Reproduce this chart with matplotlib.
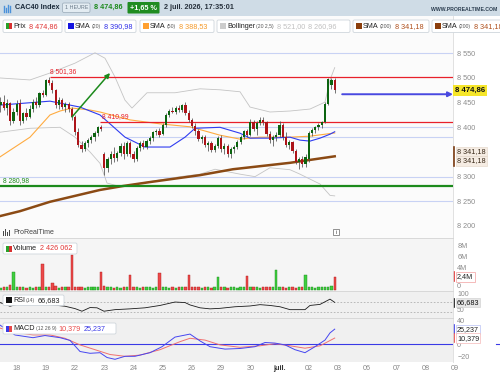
import matplotlib
matplotlib.use('Agg')
import matplotlib.pyplot as plt
import matplotlib.transforms as mtrans
from matplotlib.patches import Rectangle, FancyBboxPatch

plt.rcParams['font.family'] = ['Liberation Sans', 'DejaVu Sans']

# ---------------- data ----------------
opens = [8445, 8452, 8440, 8449, 8412, 8430, 8450, 8412, 8428, 8420,
         8438, 8452, 8445, 8470, 8466, 8495, 8490, 8475, 8445, 8455,
         8442, 8448, 8438, 8420, 8390, 8365, 8356, 8368, 8374, 8380,
         8388, 8400, 8345, 8318, 8335, 8345, 8338, 8348, 8362, 8345,
         8368, 8345, 8336, 8358, 8368, 8360, 8372, 8378, 8390, 8393,
         8386, 8405, 8425, 8434, 8430, 8440, 8436, 8445, 8428, 8415,
         8402, 8392, 8376, 8380, 8364, 8368, 8354, 8362, 8378, 8355,
         8362, 8345, 8355, 8360, 8370, 8380, 8392, 8384, 8410, 8396,
         8408, 8415, 8410, 8386, 8375, 8380, 8384, 8405, 8380, 8365,
         8370, 8352, 8330, 8335, 8326, 8335, 8388, 8395, 8400, 8404,
         8410, 8448, 8485, 8496]
highs = [8462, 8465, 8458, 8452, 8440, 8455, 8458, 8432, 8440, 8445,
         8458, 8462, 8472, 8476, 8498, 8501.36, 8496, 8478, 8462, 8460,
         8452, 8452, 8442, 8425, 8398, 8372, 8372, 8378, 8385, 8392,
         8403, 8405, 8350, 8340, 8352, 8360, 8352, 8368, 8370, 8372,
         8372, 8352, 8362, 8372, 8374, 8376, 8382, 8392, 8396, 8398,
         8408, 8428, 8438, 8442, 8444, 8446, 8448, 8451, 8435, 8418,
         8408, 8396, 8385, 8384, 8372, 8372, 8366, 8382, 8384, 8368,
         8366, 8360, 8365, 8375, 8384, 8395, 8396, 8416, 8415, 8412,
         8420, 8420, 8412, 8392, 8385, 8390, 8412, 8408, 8390, 8375,
         8372, 8356, 8340, 8342, 8345, 8392, 8398, 8403, 8408, 8412,
         8452, 8500, 8500, 8500]
lows = [8430, 8435, 8425, 8405, 8408, 8425, 8405, 8408, 8415, 8418,
        8432, 8440, 8442, 8462, 8464, 8485, 8470, 8440, 8438, 8438,
        8430, 8432, 8415, 8385, 8360, 8350, 8352, 8360, 8368, 8372,
        8383, 8392, 8304, 8310, 8325, 8330, 8332, 8342, 8335, 8342,
        8340, 8330, 8332, 8352, 8355, 8356, 8366, 8372, 8384, 8380,
        8384, 8400, 8420, 8428, 8426, 8430, 8432, 8425, 8410, 8398,
        8385, 8372, 8368, 8360, 8352, 8350, 8350, 8358, 8350, 8346,
        8340, 8338, 8348, 8355, 8366, 8376, 8380, 8382, 8392, 8385,
        8404, 8405, 8382, 8368, 8362, 8372, 8380, 8375, 8360, 8355,
        8348, 8325, 8315, 8320, 8320, 8330, 8382, 8388, 8395, 8398,
        8408, 8445, 8478, 8470]
closes = [8452, 8440, 8450, 8412, 8430, 8448, 8412, 8428, 8420, 8438,
          8452, 8445, 8470, 8466, 8495, 8490, 8475, 8445, 8455, 8442,
          8448, 8438, 8420, 8390, 8365, 8356, 8368, 8374, 8380, 8388,
          8400, 8396, 8318, 8335, 8345, 8338, 8348, 8362, 8345, 8368,
          8345, 8336, 8358, 8368, 8360, 8372, 8378, 8390, 8393, 8384,
          8405, 8425, 8434, 8430, 8440, 8436, 8445, 8428, 8415, 8402,
          8392, 8376, 8380, 8364, 8368, 8354, 8362, 8378, 8355, 8362,
          8345, 8355, 8360, 8370, 8380, 8392, 8384, 8410, 8396, 8408,
          8415, 8410, 8386, 8375, 8380, 8384, 8405, 8380, 8365, 8370,
          8352, 8330, 8335, 8326, 8340, 8388, 8395, 8400, 8404, 8410,
          8448, 8498, 8496, 8474.86]
volumes = [0.4, 0.5, 0.6, 0.9, 3.3, 0.5, 0.6, 0.5, 0.4, 0.5,
           0.4, 0.5, 0.6, 4.8, 0.6, 0.5, 1.2, 0.7, 0.4, 0.5,
           0.6, 0.5, 6.4, 0.6, 0.5, 0.5, 0.4, 0.5, 0.6, 0.5,
           0.6, 3.3, 0.7, 0.5, 0.5, 0.4, 0.5, 0.4, 0.6, 0.6,
           2.7, 0.6, 0.5, 0.4, 0.5, 0.5, 0.6, 0.4, 0.6, 3.0,
           0.6, 0.5, 0.4, 0.5, 0.4, 0.5, 0.6, 0.5, 2.7, 0.6,
           0.5, 0.6, 0.4, 0.5, 0.5, 0.4, 0.6, 2.4, 0.6, 0.5,
           0.4, 0.5, 0.6, 0.4, 0.5, 0.6, 2.6, 0.6, 0.5, 0.5,
           0.4, 0.5, 0.6, 0.5, 0.6, 3.6, 0.6, 0.5, 0.4, 0.5,
           0.6, 0.4, 0.5, 0.6, 2.7, 0.6, 0.5, 0.4, 0.5, 0.6,
           0.5, 0.6, 0.7, 2.426062]

sma20_x = [-0.15, 15.26, 24.5, 30.67, 38.37, 44.54, 52.24, 56.87, 59.95, 67.65,
           73.82, 76.9, 83.06, 89.22, 92.3, 95.38, 98.47, 101.55, 103]
sma20_y = [8445, 8453, 8441, 8425, 8380, 8360, 8360, 8380, 8398, 8400,
           8388, 8378, 8378, 8380, 8374, 8372, 8378, 8386, 8390.98]
sma50_x = [-0.15, 9.1, 15.26, 18.34, 22.04, 27.59, 30.67, 39.92, 49.16, 58.4,
           67.65, 73.82, 79.98, 89.22, 95.38, 103]
sma50_y = [8340, 8380, 8425, 8433, 8439, 8435, 8431, 8415, 8407, 8401,
           8384, 8376, 8380, 8380, 8382, 8388.53]
sma200_x = [-0.15, 6.02, 15.26, 30.67, 37.76, 46.08, 61.49, 71.66, 89.22, 103]
sma200_y = [8220, 8230, 8249, 8273, 8281, 8289, 8303, 8315, 8328, 8341.18]
bbup_x = [-0.15, 9.1, 15.26, 22.97, 29.13, 32.21, 35.29, 38.37, 40.53, 45.15,
          53.78, 61.49, 67.65, 73.82, 76.9, 83.06, 89.22, 95.38, 100.0, 101.55, 103]
bbup_y = [8500, 8496, 8510, 8530, 8551, 8540, 8502, 8455, 8439, 8470,
          8470, 8478, 8476, 8472, 8441, 8431, 8433, 8437, 8451, 8496, 8521.0]
bblo_x = [-0.15, 9.1, 18.34, 22.97, 27.59, 30.67, 32.83, 36.83, 46.08, 55.33,
          61.49, 66.11, 73.82, 78.44, 83.06, 89.22, 92.3, 98.47, 101.55, 103]
bblo_y = [8390, 8398, 8400, 8380, 8350, 8327, 8287, 8280, 8290, 8300,
          8305, 8315, 8305, 8300, 8318, 8314, 8305, 8285, 8262, 8260.96]
rsi_x = [-0.15, 2.94, 6.02, 10.02, 13.72, 16.8, 19.88, 22.97, 25.12, 27.59,
         29.75, 31.9, 35.29, 39.92, 44.54, 49.16, 53.78, 56.87, 58.4, 61.49,
         64.57, 67.65, 72.27, 76.9, 79.98, 83.06, 86.14, 89.22, 93.84, 95.38,
         98.47, 101.55, 103]
rsi_y = [66, 52, 62, 59, 60, 56, 52, 43, 33, 47,
         46, 33, 39, 42, 46, 55, 68, 66, 57, 46,
         42, 44, 50, 53, 58, 55, 50, 39, 39, 55,
         59, 79, 66.683]
macd_x = [-0.15, 4.48, 10.02, 13.72, 18.34, 21.43, 24.51, 27.59, 30.67, 32.83,
          35.29, 38.37, 41.45, 46.08, 49.78, 53.78, 58.4, 61.49, 64.57, 69.19,
          73.82, 78.44, 81.52, 84.6, 87.68, 90.76, 93.84, 96.92, 100.0, 101.55, 103]
macd_y = [32, 15.5, 11, 14.6, 11, 6.5, -12, -15, -14, -22,
          -25, -20, -20, -14, -4, 12, 17, 5.6, -4, -8,
          -7, -4, 3, 2, -1, -9, -14, -4, 7, 19, 25.237]
sig_x = [-0.15, 4.48, 10.02, 15.26, 19.88, 24.51, 29.13, 33.75, 38.37, 43.0,
         49.16, 55.33, 58.4, 63.03, 67.65, 73.82, 79.98, 84.6, 89.22, 93.84,
         98.47, 103]
sig_y = [27, 20, 15.6, 15.6, 10, -1, -9, -17, -20, -18,
         -9, 4.4, 10, 7, -1, -5, -2.5, 1, -2.5, -6.5,
         -2.5, 10.379]

day_index = [5, 14, 23, 32, 41, 50, 59, 68, 77, 86, 95, 104, 113, 122, 131, 140]
day_labels = ['18', '19', '22', '23', '24', '25', '26', '29', '30', 'juil.',
              '02', '03', '06', '07', '08', '09']

res_levels = [8501.36, 8410.99]
sup_level = 8280.98
blue_levels = [8550, 8300, 8250]
blue_partial = [(8400, 30.67), (8381, 38.37)]
last_price = 8474.86
last_volume_text = '2 426 062'

# ---------------- layout ----------------
W, H = 500, 375
fig = plt.figure(figsize=(5, 3.75), dpi=100)
fig.patch.set_facecolor('white')
renderer = fig.canvas.get_renderer()


def rect(x0, y0, x1, y1):
    return [x0 / W, 1 - y1 / H, (x1 - x0) / W, (y1 - y0) / H]


XL = (-0.146, 139.45)
n = len(closes)
idx = list(range(n))
up = [c >= o for o, c in zip(opens, closes)]
GRN, RED = '#0c6410', '#ad1419'
FS = 5.2
SM = 3.7
GRAYTXT = '#8c8c8c'


def fmt_price(v):
    return f"{v:,.2f}".replace(',', ' ').replace('.', ',')


def style_axis(ax, bg):
    ax.set_facecolor(bg)
    ax.set_xlim(*XL)
    ax.set_xticks([])
    for s in ['left', 'bottom']:
        ax.spines[s].set_visible(False)
    ax.spines['top'].set_color('#d4d4d4')
    ax.spines['top'].set_linewidth(0.6)
    ax.spines['right'].set_color('#dcdcdc')
    ax.spines['right'].set_linewidth(0.6)
    ax.yaxis.tick_right()
    ax.tick_params(axis='y', length=0, pad=3, labelsize=FS, labelcolor=GRAYTXT)


def set_label_va(axis_obj, text, va):
    for tk in axis_obj.yaxis.get_major_ticks():
        if tk.label2.get_text() == text:
            tk.label2.set_va(va)


# ---- price panel ----
ax = fig.add_axes(rect(0, 16, 453, 238))
style_axis(ax, '#fbfbfb')
ax.spines['top'].set_visible(False)
ax.set_ylim(8175.6, 8625.6)
yt = [8200, 8250, 8300, 8400, 8450, 8500, 8550]
ax.set_yticks(yt)
ax.set_yticklabels([f"{v // 1000} {v % 1000:03d}" for v in yt])

for lv in blue_levels:
    ax.axhline(lv, color='#c8d2f4', lw=0.8, zorder=1)
for lv, x0 in blue_partial:
    ax.hlines(lv, x0, XL[1], color='#c8d2f4', lw=0.8, zorder=1)

ax.plot(bbup_x, bbup_y, color='#c4c4c4', lw=0.6, zorder=2)
ax.plot(bblo_x, bblo_y, color='#c4c4c4', lw=0.6, zorder=2)
ax.plot(sma50_x, sma50_y, color='#ffab40', lw=0.8, zorder=3)
ax.plot(sma20_x, sma20_y, color='#2f3cf0', lw=0.8, zorder=3)
ax.plot(sma200_x, sma200_y, color='#8b4a14', lw=1.8, zorder=3)

ax.hlines(res_levels[0], 15.26, XL[1], color='#e8202a', lw=0.9, zorder=4)
ax.hlines(res_levels[1], 30.67, XL[1], color='#e8202a', lw=0.9, zorder=4)
ax.axhline(sup_level, color='#1c8a1c', lw=1.6, zorder=4)
ax.text(15.26, res_levels[0] + 4, fmt_price(res_levels[0]), color='#e8202a',
        fontsize=FS - 0.3, va='bottom', ha='left')
ax.text(31.3, res_levels[1] + 4, fmt_price(res_levels[1]), color='#e8202a',
        fontsize=FS - 0.3, va='bottom', ha='left')
ax.text(0.8, sup_level + 4, fmt_price(sup_level), color='#1c8a1c',
        fontsize=FS - 0.3, va='bottom', ha='left')

# candles
ax.vlines(idx, lows, highs, color='#505050', lw=0.55, zorder=5)
bottoms = [min(o, c) for o, c in zip(opens, closes)]
heights = [max(abs(c - o), 1.2) for o, c in zip(opens, closes)]
ax.bar(idx, heights, bottom=bottoms, width=0.68,
       color=[GRN if u else RED for u in up], linewidth=0, zorder=6)

# arrows
ax.annotate('', xy=(33.75, 8510), xytext=(22.04, 8421),
            arrowprops=dict(arrowstyle='-|>', color='#1c8a1c', lw=1.1,
                            mutation_scale=7, shrinkA=0, shrinkB=0), zorder=7)
ax.annotate('', xy=(XL[1], 8467), xytext=(105.3, 8467),
            arrowprops=dict(arrowstyle='-|>', color='#4848e0', lw=1.4,
                            mutation_scale=7, shrinkA=0, shrinkB=0), zorder=7,
            annotation_clip=False)

bt = mtrans.blended_transform_factory(ax.transAxes, ax.transData)
ax.text(1.004, last_price, fmt_price(last_price), transform=bt, fontsize=FS + 0.4,
        fontweight='bold', va='center', ha='left', color='#111111', clip_on=False,
        bbox=dict(boxstyle='square,pad=0.22', fc='#f6e62a', ec='none'), zorder=9)
for off in [9.5, -9.5]:
    ax.text(1.009, sma200_y[-1] + off, fmt_price(sma200_y[-1]), transform=bt,
            fontsize=FS, va='center', ha='left', color='#3a2a1a', clip_on=False,
            bbox=dict(boxstyle='square,pad=0.15', fc='#f5ece3', ec='#e2d4c6', lw=0.4),
            zorder=9)
ax.plot([1.003, 1.003], [sma200_y[-1] - 19, sma200_y[-1] + 19], transform=bt,
        color='#7a3a10', lw=1.2, clip_on=False, zorder=10)

# ---- volume panel ----
axv = fig.add_axes(rect(0, 238, 453, 291))
style_axis(axv, '#f5f5f5')
axv.set_ylim(-0.18, 9.45)
axv.set_yticks([0, 4, 6, 8])
axv.set_yticklabels(['0', '4M', '6M', '8M'])
set_label_va(axv, '0', 'bottom')
axv.bar(idx, volumes, width=0.72,
        color=['#3fce3f' if u else '#ec4a4a' for u in up],
        edgecolor=['#1a8a1a' if u else '#b01c1c' for u in up], linewidth=0.3)
btv = mtrans.blended_transform_factory(axv.transAxes, axv.transData)
axv.text(1.009, volumes[-1], '2,4M', transform=btv, fontsize=FS, va='center',
         ha='left', color='#222', clip_on=False,
         bbox=dict(boxstyle='square,pad=0.2', fc='white', ec='#f2a0a0', lw=0.5))
axv.plot([1.003, 1.003], [volumes[-1] - 0.85, volumes[-1] + 0.85], transform=btv,
         color='#e03030', lw=1.2, clip_on=False)

# ---- RSI panel ----
axr = fig.add_axes(rect(0, 291, 453, 318))
style_axis(axr, '#f0f0f0')
axr.set_ylim(7.2, 110)
axr.set_yticks([100, 50])
axr.set_yticklabels(['100', '50'])
axr.tick_params(axis='y', labelsize=FS - 0.2)
set_label_va(axr, '50', 'top')
axr.axhline(70, color='#b0b0b0', lw=0.6, ls=(0, (2, 2)))
axr.axhline(30, color='#b0b0b0', lw=0.6, ls=(0, (2, 2)))
axr.plot(rsi_x, rsi_y, color='#1a1a1a', lw=0.6)
btr = mtrans.blended_transform_factory(axr.transAxes, axr.transData)
axr.text(1.009, rsi_y[-1] - 1, '66,683', transform=btr, fontsize=FS, va='center',
         ha='left', color='#111', clip_on=False, zorder=10,
         bbox=dict(boxstyle='square,pad=0.12', fc='#e6e6e6', ec='#cccccc', lw=0.4))
axr.plot([1.003, 1.003], [rsi_y[-1] - 16, rsi_y[-1] + 14], transform=btr,
         color='#111', lw=1.2, clip_on=False)

# ---- MACD panel ----
axm = fig.add_axes(rect(0, 318, 453, 362))
style_axis(axm, '#f0f0f0')
axm.set_ylim(-29.5, 43.8)
axm.set_yticks([40, 0, -20])
axm.set_yticklabels(['40', '0', '\u221220'])
axm.axhline(0, color='#3a3ae6', lw=0.8)
axm.plot(sig_x, sig_y, color='#f07070', lw=0.7)
axm.plot(macd_x, macd_y, color='#4646f0', lw=0.7)
btm = mtrans.blended_transform_factory(axm.transAxes, axm.transData)
for val, ec, bar in [(macd_y[-1], '#b8c0f4', '#3a3ae6'), (sig_y[-1], '#f4b8b8', '#e84848')]:
    axm.text(1.009, val, f"{val:.3f}".replace('.', ','), transform=btm, fontsize=FS,
             va='center', ha='left', color='#222', clip_on=False,
             bbox=dict(boxstyle='square,pad=0.15', fc='white', ec=ec, lw=0.5))
    axm.plot([1.003, 1.003], [val - 7, val + 7], transform=btm,
             color=bar, lw=1.2, clip_on=False)
axm.plot([496 / 453, 500 / 453], [0, 0], transform=btm, color='#3a3ae6',
         lw=0.8, clip_on=False)

# ---- time axis ----
axt = fig.add_axes(rect(0, 362, 500, 375))
axt.set_xlim(XL[0], 5 + (500 - 16.7) / 3.245)
axt.set_ylim(0, 1)
axt.axis('off')
for d, lab in zip(day_index, day_labels):
    axt.text(d, 0.52, lab, ha='center', va='center', fontsize=FS,
             color='#333333' if lab == 'juil.' else '#888888',
             fontweight='bold' if lab == 'juil.' else 'normal')

# ---- overlay (header, legends) ----
ov = fig.add_axes([0, 0, 1, 1], zorder=20)
ov.set_xlim(0, W)
ov.set_ylim(H, 0)
ov.axis('off')
ov.patch.set_alpha(0)


def seq(x, y, pieces):
    for s, size, color, gap in pieces:
        t = ov.text(x, y, s, fontsize=size, color=color, va='center', ha='left')
        bb = t.get_window_extent(renderer)
        x += bb.width + gap
    return x


ov.add_patch(Rectangle((0, 0), 500, 15.5, fc='#cfdce6', ec='none'))
for xx, h0 in [(3.5, 9), (5.5, 6), (7.5, 10.5), (9.5, 8)]:
    ov.plot([xx, xx], [12, 12 - h0 * 0.7], color='#4a90d9', lw=1.0)
ov.text(15, 7.8, 'CAC40 Index', fontsize=5.2, fontweight='bold', color='#1c2c3c',
        va='center')
ov.add_patch(FancyBboxPatch((62.5, 3), 27.5, 9.5, boxstyle='round,pad=0,rounding_size=1.5',
                            fc='#e3ecf2', ec='#97a8b6', lw=0.5))
ov.text(76.2, 7.9, '1 HEURE', fontsize=3.9, color='#6b7b8a', ha='center', va='center')
ov.text(94, 7.8, fmt_price(last_price), fontsize=5.2, fontweight='bold', color='#1d8a1d',
        va='center')
ov.add_patch(FancyBboxPatch((127.5, 2), 32, 11.5, boxstyle='round,pad=0,rounding_size=1',
                            fc='#1f8c21', ec='none'))
ov.text(143.5, 7.9, '+1,65 %', fontsize=5.2, fontweight='bold', color='white',
        ha='center', va='center')
ov.text(164.5, 7.8, '2 juil. 2026, 17:35:01', fontsize=5.2, fontweight='bold',
        color='#27313c', va='center')
ov.text(497, 9.5, 'WWW.PROREALTIME.COM', fontsize=3.7, fontweight='bold',
        color='#2c3e50', ha='right', va='center')


def legend_box(x0, x1, y0, y1):
    ov.add_patch(FancyBboxPatch((x0, y0), x1 - x0, y1 - y0,
                                boxstyle='round,pad=0,rounding_size=1.5',
                                fc='white', ec='#cfd6dc', lw=0.6))


def icon(x, y, c1, c2=None):
    if c2 is None:
        ov.add_patch(Rectangle((x, y - 3), 6, 6, fc=c1, ec='none'))
    else:
        ov.add_patch(Rectangle((x, y - 3), 3, 6, fc=c1, ec='none'))
        ov.add_patch(Rectangle((x + 3, y - 3), 3, 6, fc=c2, ec='none'))


LY = 26.2
DK = '#222222'
SMC = '#555555'
legend_box(3, 62, 20, 32.5)
icon(6, LY, '#2aa12a', '#d83030')
seq(13.5, LY, [('Prix', FS, DK, 3), (fmt_price(last_price), FS, '#e03535', 0)])

legend_box(65, 136, 20, 32.5)
icon(68, LY, '#1414e0')
seq(75, LY, [('SMA', FS, DK, 1), ('(20)', SM, SMC, 3),
             (fmt_price(sma20_y[-1]), FS, '#3030e8', 0)])

legend_box(140, 214, 20, 32.5)
icon(143, LY, '#ffa030')
seq(150, LY, [('SMA', FS, DK, 1), ('(50)', SM, SMC, 3),
              (fmt_price(sma50_y[-1]), FS, '#f59a2a', 0)])

legend_box(217, 350, 20, 32.5)
icon(220, LY, '#cccccc')
seq(227, LY, [('Bollinger', FS, DK, 1), ('(20 2,5)', SM, SMC, 3),
              (fmt_price(bbup_y[-1]), FS, '#c0c0c0', 3),
              (fmt_price(bblo_y[-1]), FS, '#c0c0c0', 0)])

for bx, bx1 in [(353, 429), (432, 506)]:
    legend_box(bx, bx1, 20, 32.5)
    icon(bx + 3, LY, '#8b3e0c')
    seq(bx + 10, LY, [('SMA', FS, DK, 1), ('(200)', SM, SMC, 3),
                      (fmt_price(sma200_y[-1]), FS, '#b0501c', 0)])

# watermark + info icon
for xx, h0 in [(3, 4), (5, 6), (7, 3.5), (9, 5)]:
    ov.plot([xx, xx], [235, 235 - h0], color='#444', lw=0.7)
ov.text(13, 232.8, 'ProRealTime', fontsize=5.0, color='#444', va='center')
ov.add_patch(Rectangle((333, 229), 6, 6, fc='white', ec='#666', lw=0.5))
ov.text(336, 232.2, 'i', fontsize=3.8, color='#333', ha='center', va='center')

# volume legend
legend_box(3, 77, 243, 254)
icon(5.5, 248.5, '#2aa12a', '#d83030')
seq(13, 248.5, [('Volume', FS, DK, 2.5), (last_volume_text, FS, '#e03535', 0)])

# RSI legend
legend_box(3, 64, 295, 305.5)
icon(5.5, 300.2, '#111111')
seq(13, 300.2, [('RSI', FS, DK, 1), ('(14)', SM, SMC, 2.5),
                ('66,683', FS, DK, 0)])

# MACD legend
legend_box(3, 116, 323, 334)
icon(5.5, 328.5, '#3a3ae6', '#e84848')
seq(13, 328.5, [('MACD', FS, DK, 1), ('(12 26 9)', SM, SMC, 2.5),
                ('10,379', FS, '#e84848', 3), ('25,237', FS, '#3a3ae6', 0)])

fig.savefig('out.png', dpi=100, facecolor='white')
